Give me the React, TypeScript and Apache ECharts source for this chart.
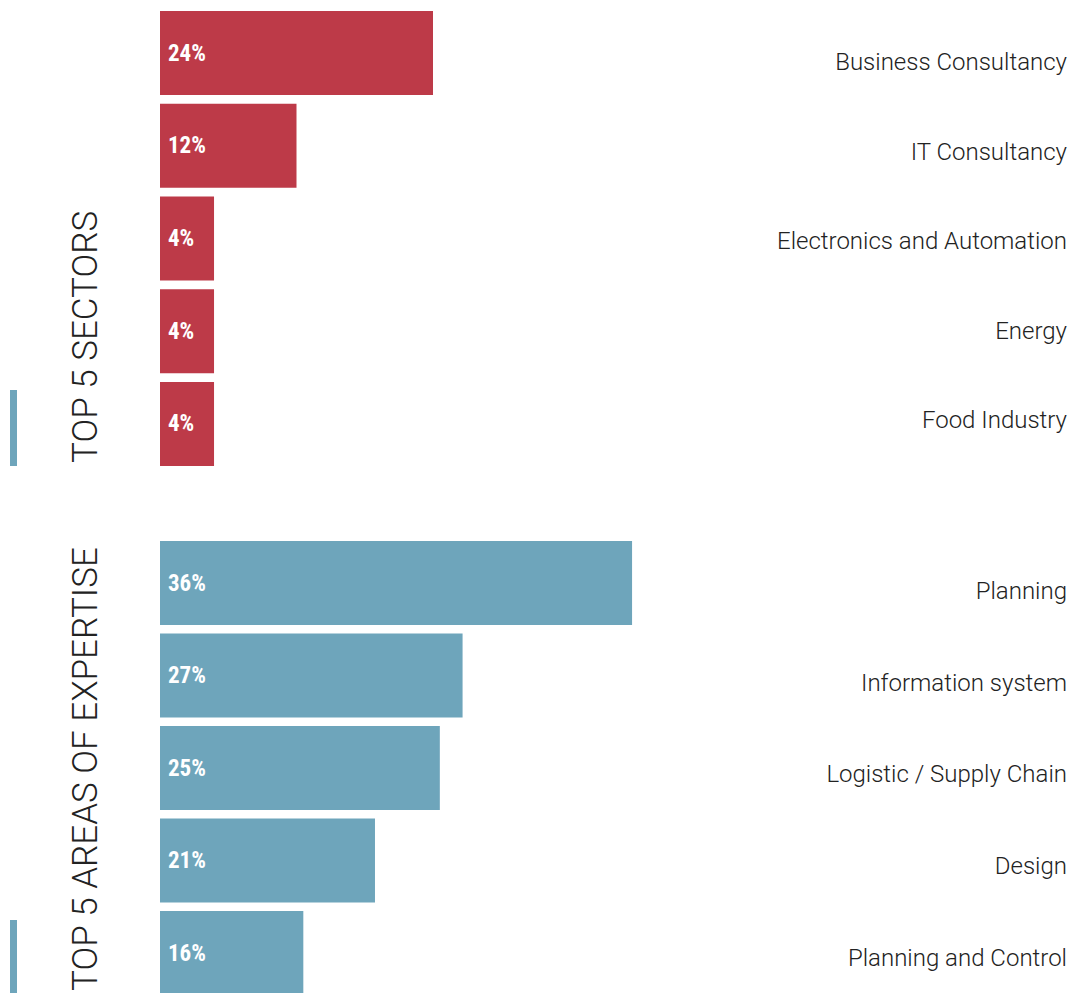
import React, { useEffect, useRef } from "react";
import * as echarts from "echarts";

const sectorCategories = ["Business Consultancy", "IT Consultancy", "Electronics and Automation", "Energy", "Food Industry"];
const sectorLabels = ["24%", "12%", "4%", "4%", "4%"];
const sectorValues = [24, 12, 4.75, 4.75, 4.75];

const expertiseCategories = ["Planning", "Information system", "Logistic / Supply Chain", "Design", "Planning and Control"];
const expertiseLabels = ["36%", "27%", "25%", "21%", "16%"];
const expertiseValues = [41.5, 26.6, 24.6, 18.9, 12.6];

const RED = "#bd3a48";
const TEAL = "#6ea5bb";
const MAX = 80;

export default function App() {
  const ref = useRef<HTMLDivElement>(null);
  useEffect(() => {
    const chart = echarts.init(ref.current!, null, { renderer: "svg" });
    const valueLabel = (labels: string[]) => ({
      show: true,
      position: "insideLeft",
      distance: 8,
      color: "#fff",
      fontFamily: "'Roboto Condensed', sans-serif",
      fontWeight: "bold",
      fontSize: 23,
      formatter: (p: any) => labels[p.dataIndex],
    });
    const catFont = { fontFamily: "Roboto", fontWeight: 300, fontSize: 24, color: "#222" };
    const hiddenX = (gridIndex: number) => ({
      type: "value", gridIndex, min: 0, max: MAX, show: false,
      splitLine: { show: false },
    });
    const barY = (gridIndex: number, data: string[]) => ({
      type: "category", gridIndex, data, inverse: true, show: false,
    });
    const labelY = (gridIndex: number, data: string[]) => ({
      type: "category", gridIndex, data, inverse: true, position: "right",
      axisLine: { show: false }, axisTick: { show: false }, splitLine: { show: false },
      axisLabel: { inside: true, margin: 0, ...catFont },
    });
    chart.setOption({
      animation: false,
      grid: [
        { left: 160, width: 910, top: 6.75, height: 463.5 },
        { left: 160, width: 910, top: 536.75, height: 462.5 },
        { left: 160, width: 907, top: 17.25, height: 447.5 },
        { left: 160, width: 907, top: 545.1, height: 458.75 },
      ],
      xAxis: [hiddenX(0), hiddenX(1), hiddenX(2), hiddenX(3)],
      yAxis: [
        barY(0, sectorCategories),
        barY(1, expertiseCategories),
        labelY(2, sectorCategories),
        labelY(3, expertiseCategories),
      ],
      series: [
        {
          type: "bar", xAxisIndex: 0, yAxisIndex: 0, data: sectorValues, barWidth: 84,
          itemStyle: { color: RED }, label: valueLabel(sectorLabels),
        },
        {
          type: "bar", xAxisIndex: 1, yAxisIndex: 1, data: expertiseValues, barWidth: 84,
          itemStyle: { color: TEAL }, label: valueLabel(expertiseLabels),
        },
      ],
      graphic: [
        { type: "rect", shape: { x: 10, y: 390, width: 7, height: 76 }, style: { fill: TEAL } },
        { type: "rect", shape: { x: 10, y: 920, width: 7, height: 80 }, style: { fill: TEAL } },
        {
          type: "text", x: 85, y: 463, rotation: Math.PI / 2,
          style: {
            text: "TOP 5 SECTORS", fill: "#222", font: "300 35px Roboto",
            textAlign: "left", textVerticalAlign: "middle",
          },
        },
        {
          type: "text", x: 85, y: 991, rotation: Math.PI / 2,
          style: {
            text: "TOP 5 AREAS OF EXPERTISE", fill: "#222", font: "300 35px Roboto",
            textAlign: "left", textVerticalAlign: "middle",
          },
        },
      ],
    });
    return () => chart.dispose();
  }, []);
  return (
    <div style={{ position: "absolute", left: 0, top: 0, width: 1078, height: 993, overflow: "hidden" }}>
      <div ref={ref} style={{ width: 1078, height: 1010 }} />
    </div>
  );
}
